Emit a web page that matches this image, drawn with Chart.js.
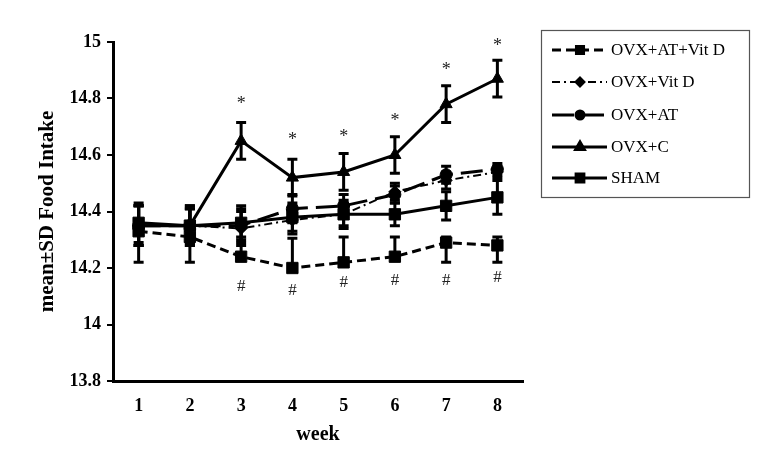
<!DOCTYPE html>
<html>
<head>
<meta charset="utf-8">
<script src="https://cdn.jsdelivr.net/npm/chart.js@4/dist/chart.umd.min.js"></script>
<style>
  html,body{margin:0;padding:0;background:#fff;}
  #wrap{width:774px;height:453px;position:relative;}
</style>
</head>
<body>
<div id="wrap"><canvas id="c" width="774" height="453"></canvas></div>
<script>
const weeks = ['1','2','3','4','5','6','7','8'];
const yTicks = [13.8, 14, 14.2, 14.4, 14.6, 14.8, 15];

const atVitD      = [14.33, 14.31, 14.24, 14.20, 14.22, 14.24, 14.29, 14.28];
const atVitDSdUp  = [0.09, 0.10, 0.07, 0.105, 0.09, 0.07, 0.02, 0.03];
const atVitDSdLow = [0.11, 0.09, 0.0, 0.0, 0.0, 0.0, 0.07, 0.06];
const vitD     = [14.35, 14.35, 14.34, 14.37, 14.39, 14.47, 14.51, 14.54];
const vitDSd   = [0.07, 0.06, 0.06, 0.05, 0.04, 0.03, 0.03, 0.02];
const at       = [14.35, 14.35, 14.35, 14.41, 14.42, 14.46, 14.53, 14.55];
const atSd     = [0.07, 0.06, 0.06, 0.05, 0.04, 0.03, 0.03, 0.02];
const ctrl     = [14.35, 14.35, 14.65, 14.52, 14.54, 14.60, 14.78, 14.87];
const ctrlSd   = [0.07, 0.07, 0.065, 0.065, 0.065, 0.065, 0.065, 0.065];
const sham     = [14.36, 14.35, 14.36, 14.38, 14.39, 14.39, 14.42, 14.45];
const shamSd   = [0.07, 0.07, 0.06, 0.05, 0.05, 0.04, 0.05, 0.06];

const starWeeks  = ['3','4','5','6','7','8'];
const starLevels = [14.795, 14.667, 14.678, 14.735, 14.915, 15.0];
const hashWeeks  = ['3','4','5','6','7','8'];
const hashLevels = [14.133, 14.122, 14.147, 14.154, 14.157, 14.165];

const serif = "'Liberation Serif', 'Times New Roman', serif";

function ds(label, data, up, low, style, dash, width, radius, legendRadius) {
  return {
    label, data, up, low, legendRadius,
    borderColor:'#000', backgroundColor:'#000',
    pointBackgroundColor:'#000', pointBorderColor:'#000',
    borderWidth: width, borderDash: dash,
    pointStyle: style, pointRadius: radius, pointBorderWidth: 1,
    tension: 0, fill:false
  };
}

const datasets = [
  ds('OVX+AT+Vit D', atVitD, atVitDSdUp, atVitDSdLow, 'rect', [9,5], 3, 8, 5),
  ds('OVX+Vit D', vitD, vitDSd, vitDSd, 'rectRot', [8,4,2,4], 2, 6, 4.5),
  ds('OVX+AT', at, atSd, atSd, 'circle', [22,8], 3, 6, 4),
  ds('OVX+C', ctrl, ctrlSd, ctrlSd, 'triangle', [], 3, 7, 5),
  ds('SHAM', sham, shamSd, shamSd, 'rect', [], 3, 8, 5.5)
];

const errorBars = {
  id:'errorBars',
  beforeDatasetsDraw(chart){
    const {ctx, scales:{x,y}} = chart;
    ctx.save();
    ctx.strokeStyle='#000';
    ctx.lineWidth=3;
    chart.data.datasets.forEach(d=>{
      d.data.forEach((v,i)=>{
        const px = x.getPixelForValue(i);
        const c = y.getPixelForValue(v);
        ctx.beginPath();
        if (d.up[i] > 0) {
          const t = y.getPixelForValue(v + d.up[i]);
          ctx.moveTo(px,c); ctx.lineTo(px,t);
          ctx.moveTo(px-5,t); ctx.lineTo(px+5,t);
        }
        if (d.low[i] > 0) {
          const b = y.getPixelForValue(v - d.low[i]);
          ctx.moveTo(px,c); ctx.lineTo(px,b);
          ctx.moveTo(px-5,b); ctx.lineTo(px+5,b);
        }
        ctx.stroke();
      });
    });
    ctx.restore();
  }
};

const marks = {
  id:'marks',
  afterDatasetsDraw(chart){
    const {ctx, scales:{x,y}} = chart;
    ctx.save();
    ctx.fillStyle='#222';
    ctx.textAlign='center';
    ctx.textBaseline='middle';
    ctx.font = "18px " + serif;
    starWeeks.forEach((w,i)=>{
      ctx.fillText('*', x.getPixelForValue(weeks.indexOf(w)), y.getPixelForValue(starLevels[i]) + 4);
    });
    ctx.font = "17px " + serif;
    hashWeeks.forEach((w,i)=>{
      ctx.fillText('#', x.getPixelForValue(weeks.indexOf(w)), y.getPixelForValue(hashLevels[i]));
    });
    ctx.restore();
  }
};

const boxLegend = {
  id:'boxLegend',
  afterDraw(chart){
    const ctx = chart.ctx;
    const L=541, T=30, R=749, B=197;
    ctx.save();
    ctx.strokeStyle='#555';
    ctx.lineWidth=1.2;
    ctx.strokeRect(L+0.5,T+0.5,R-L,B-T);
    const rows=[50,82,115,147,178];
    chart.data.datasets.forEach((d,i)=>{
      const yy=rows[i];
      ctx.strokeStyle='#000';
      ctx.lineWidth=d.borderWidth;
      ctx.setLineDash(d.borderDash);
      ctx.beginPath();
      ctx.moveTo(552,yy); ctx.lineTo(607,yy);
      ctx.stroke();
      ctx.setLineDash([]);
      Chart.helpers.drawPoint(ctx,{pointStyle:d.pointStyle, radius:d.legendRadius, borderWidth:1}, 580, yy);
      ctx.fillStyle='#000';
      ctx.fill();
      ctx.font = "17px " + serif;
      ctx.textAlign='left';
      ctx.textBaseline='middle';
      ctx.fillText(d.label, 611, yy+1);
    });
    ctx.restore();
  }
};

new Chart(document.getElementById('c'), {
  type:'line',
  data:{labels:weeks, datasets},
  options:{
    responsive:false,
    animation:false,
    layout:{padding:{left:0, top:42, right:251, bottom:0}},
    plugins:{legend:{display:false}, tooltip:{enabled:false}},
    scales:{
      x:{
        offset:true,
        grid:{display:false, drawTicks:false},
        border:{display:true, color:'#000', width:3},
        ticks:{color:'#000', padding:15, font:{family:serif, size:18, weight:'bold'}},
        title:{display:true, text:'week', color:'#000', font:{family:serif, size:20, weight:'bold'}, padding:{top:0, bottom:6}},
        afterFit(s){ s.height = 72; }
      },
      y:{
        min:13.8, max:15,
        afterBuildTicks(s){ s.ticks = yTicks.map(v=>({value:v})); },
        grid:{drawOnChartArea:false, drawTicks:true, tickLength:6, color:'#000', lineWidth:2},
        border:{display:true, color:'#000', width:3},
        ticks:{color:'#000', padding:6, font:{family:serif, size:18, weight:'bold'},
               callback:v=>String(Math.round(v*10)/10)},
        title:{display:true, text:'mean±SD Food Intake', color:'#000', font:{family:serif, size:21, weight:'bold'}, padding:{top:35, bottom:0}},
        afterFit(s){ s.width = 113; }
      }
    }
  },
  plugins:[errorBars, marks, boxLegend]
});
</script>
</body>
</html>
